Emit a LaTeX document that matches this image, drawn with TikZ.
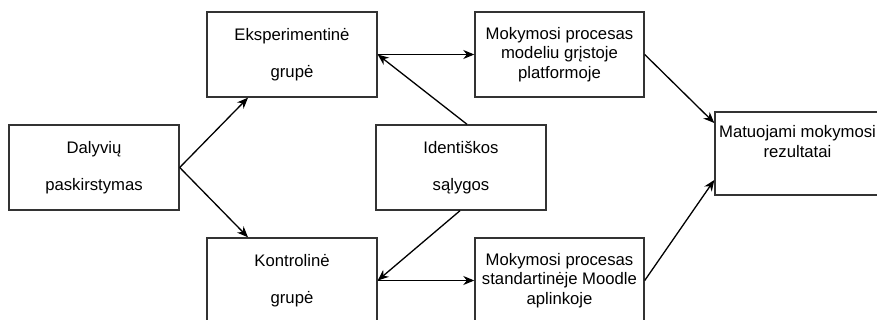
\documentclass[tikz,border=0pt]{standalone}
\usepackage{fontspec}
\setmainfont{Liberation Sans}
\usetikzlibrary{arrows.meta,calc}
\begin{document}
\begin{tikzpicture}[x=1pt,y=-1pt,
  box/.style={draw=black!80, line width=1.4pt, minimum width=170pt, minimum height=85pt, inner sep=0pt, align=center, font=\fontsize{16.7}{19.5}\selectfont},
  lbl/.style={inner sep=0pt, align=center, font=\fontsize{16.7}{19.5}\selectfont},
  arr/.style={draw=black, line width=1.3pt, -{Stealth[length=11pt,width=9pt,inset=3.5pt]}}]
\clip (0,0) rectangle (877,320);
\fill[white] (0,0) rectangle (877,320);
\node[box] (dal) at (94,167.5) {Dalyvių\\[18pt]paskirstymas};
\node[box] (eks) at (292,54.5) {Eksperimentinė\\[18pt]grupė};
\node[box] (kon) at (292,280.5) {Kontrolinė\\[18pt]grupė};
\node[box] (ide) at (461,167.5) {Identiškos\\[18pt]sąlygos};
\node[box, minimum width=169pt] (mt) at (559.5,54.5) {Mokymosi procesas\\modeliu grįstoje\\platformoje};
\node[box, minimum width=169pt] (mb) at (559.5,280.5) {Mokymosi procesas\\standartinėje Moodle\\aplinkoje};
\node[box, minimum width=165pt, minimum height=83pt] (mat) at (797.5,153.5) {};
\node[lbl, anchor=north] (matt) at ([yshift=-14pt]mat.north) {Matuojami mokymosi\\rezultatai};
\draw[arr] (dal.east) -- ([xshift=-44pt]eks.south);
\draw[arr] (dal.east) -- ([xshift=-44pt]kon.north);
\draw[arr] ([xshift=6pt]ide.north) -- (eks.east);
\draw[arr] ([xshift=-1pt]ide.south) -- (kon.east);
\draw[arr] (eks.east) -- (mt.west);
\draw[arr] (kon.east) -- (mb.west);
\draw[arr] (mt.east) -- ([yshift=30.5pt]mat.west);
\draw[arr] (mb.east) -- ([yshift=-26.5pt]mat.west);
\end{tikzpicture}
\end{document}
